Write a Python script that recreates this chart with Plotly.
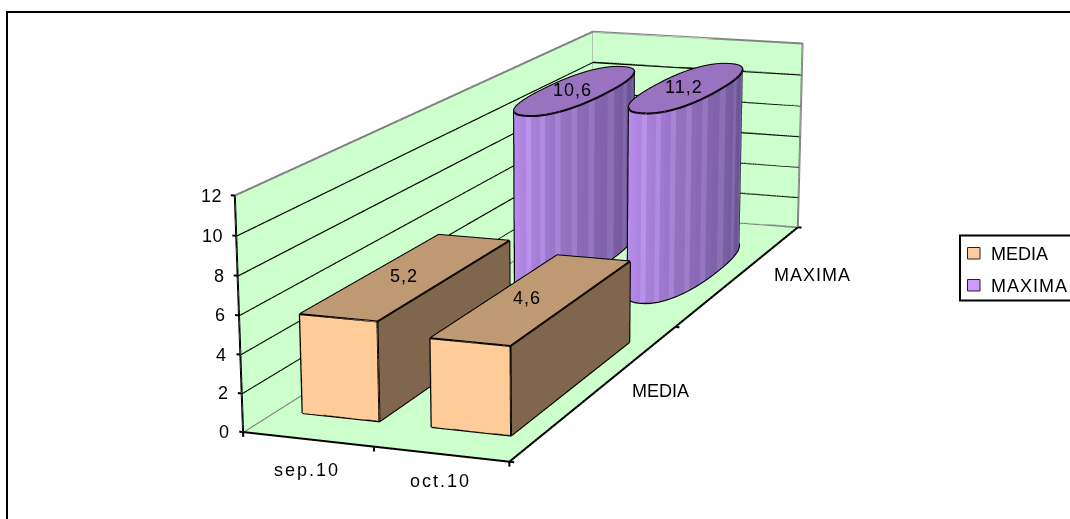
import numpy as np
import plotly.graph_objects as go

# ---- data ----
categories = ["sep.10", "oct.10"]
series = ["MEDIA", "MAXIMA"]
media = [5.2, 4.6]
maxima = [10.6, 11.2]
value_ticks = [0, 2, 4, 6, 8, 10, 12]
labels_media = ["5,2", "4,6"]
labels_maxima = ["10,6", "11,2"]

# ---- page and camera ----
W, H = 1070, 519
SCENE_H, TOP = 2309, 731          # plotly's fixed 45 degree lens needs a tall viewport for this long-lens view
EYE = [4.3792, -12.1218, 2.9229]
UP = [-0.0996, 0.2763, 0.9559]
CENTER = [-0.013, -0.277, -0.9587]
XR, YR, ZR = [-0.2, 2.2], [-0.2, 2.2], [-1, 13]
ASPECT = dict(x=1.1803 * 1.2, y=4.4003 * 1.2, z=14 / 12)

FONT = "Liberation Sans, Arial, sans-serif"
FS = 18
LIGHT = dict(ambient=1, diffuse=0, specular=0, fresnel=0, roughness=1)
GREEN, GREY, BLACK = "#ccffcc", "#808080", "#000000"
BAR_W, BAR_D = 0.6, 0.7
LW = 4
FLOOR_Z = -0.05


def spaced(s, ls):
    return f'<span style="letter-spacing:{ls}px">{s}</span>'


def polyline(segments, color, width):
    xs, ys, zs = [], [], []
    for seg in segments:
        for p in seg:
            xs.append(p[0]); ys.append(p[1]); zs.append(p[2])
        xs.append(None); ys.append(None); zs.append(None)
    return go.Scatter3d(x=xs, y=ys, z=zs, mode="lines", line=dict(color=color, width=width),
                        hoverinfo="skip", showlegend=False)


def quad(p, color):
    arr = np.array(p, float)
    return go.Mesh3d(x=arr[:, 0], y=arr[:, 1], z=arr[:, 2], i=[0, 0], j=[1, 2], k=[2, 3],
                     color=color, lighting=LIGHT, flatshading=True, hoverinfo="skip", showlegend=False)


def box(cx, cy, h):
    x0, x1 = cx - BAR_W / 2, cx + BAR_W / 2
    y0, y1 = cy - BAR_D / 2, cy + BAR_D / 2
    faces = [
        ([(x0, y0, 0), (x1, y0, 0), (x1, y0, h), (x0, y0, h)], "#ffcc99"),
        ([(x0, y0, h), (x1, y0, h), (x1, y1, h), (x0, y1, h)], "#bf9973"),
        ([(x1, y0, 0), (x1, y1, 0), (x1, y1, h), (x1, y0, h)], "#80664d"),
        ([(x0, y1, 0), (x1, y1, 0), (x1, y1, h), (x0, y1, h)], "#80664d"),
        ([(x0, y0, 0), (x0, y1, 0), (x0, y1, h), (x0, y0, h)], "#80664d"),
    ]
    traces = [quad(p, c) for p, c in faces]
    c = [(x0, y0), (x1, y0), (x1, y1), (x0, y1), (x0, y0)]
    segs = [[(a, b, 0) for a, b in c], [(a, b, h) for a, b in c]]
    segs += [[(a, b, 0), (a, b, h)] for a, b in c[:4]]
    traces.append(polyline(segs, BLACK, LW))
    return traces


def cylinder(cx, cy, h):
    n = 60
    half = n // 2
    rx, ry, p = 0.95 * BAR_W / 2, 0.95 * BAR_D / 2, 0.85
    ang = np.radians(240 + np.arange(n + 1) * 360 / n)
    c, s = np.cos(ang), np.sin(ang)
    px = cx + rx * np.sign(c) * np.abs(c) ** p
    py = cy + ry * np.sign(s) * np.abs(s) ** p
    vx = np.r_[px[:-1], px[:-1], cx]
    vy = np.r_[py[:-1], py[:-1], cy]
    vz = np.r_[np.zeros(n), np.full(n, h), h]
    i, j, k, fc = [], [], [], []
    left, right = np.array([186, 142, 238.]), np.array([96, 76, 134.])
    for a in range(n):
        b = (a + 1) % n
        fr = min(a / (half - 1), 1)
        col = left + (right - left) * fr
        if a % 3 == 2 and 4 < a < half - 2:
            col = col + 16
        col = "rgb(%d,%d,%d)" % tuple(np.clip(col, 0, 255))
        i += [a, a]; j += [b, b + n]; k += [b + n, a + n]; fc += [col, col]
        i.append(2 * n); j.append(a + n); k.append(b + n); fc.append("#9973bf")
    mesh = go.Mesh3d(x=vx, y=vy, z=vz, i=i, j=j, k=k, facecolor=fc, lighting=LIGHT, flatshading=True,
                     hoverinfo="skip", showlegend=False)
    top = [(a, b, h) for a, b in zip(px, py)]
    bottom = [(a, b, 0) for a, b in zip(px, py)]
    sil = [[(px[q], py[q], 0), (px[q], py[q], h)] for q in (0, half)]
    return [mesh, polyline([top, bottom] + sil, BLACK, LW)]


fig = go.Figure()
top_z = value_ticks[-1]
fig.add_trace(quad([(0, 0, FLOOR_Z), (2, 0, FLOOR_Z), (2, 2, FLOOR_Z), (0, 2, FLOOR_Z)], GREEN))
fig.add_trace(quad([(0, 0, 0), (0, 2, 0), (0, 2, top_z), (0, 0, top_z)], GREEN))
fig.add_trace(quad([(0, 2, 0), (2, 2, 0), (2, 2, top_z), (0, 2, top_z)], GREEN))

grid = []
for z in value_ticks[1:-1]:
    grid += [[(0, 0, z), (0, 2, z)], [(0, 2, z), (2, 2, z)]]
ticks = [[(0, 0, z), (-0.03, 0, z)] for z in value_ticks]
ticks += [[(x, 0, 0), (x, 0, -0.25)] for x in range(len(categories) + 1)]
ticks += [[(2, y, 0), (2.035, y, 0)] for y in range(len(series) + 1)]
fig.add_trace(polyline(grid + ticks + [[(0, 0, 0), (0, 0, top_z)], [(0, 0, 0), (2, 0, 0)], [(2, 0, 0), (2, 2, 0)]], BLACK, LW))
fig.add_trace(polyline([[(0, 0, 0), (0, 2, 0), (2, 2, 0), (2, 2, top_z), (0, 2, top_z), (0, 0, top_z)],
                        [(0, 2, 0), (0, 2, top_z)]], GREY, LW))

for c, (m, x) in enumerate(zip(media, maxima)):
    for t in box(c + 0.5, 0.5, m):
        fig.add_trace(t)
    for t in cylinder(c + 0.5, 1.5, x):
        fig.add_trace(t)

scene_ann = []
def sa(x, y, z, text, xs=0, ys=0, anchor="center"):
    scene_ann.append(dict(x=x, y=y, z=z, text=text, showarrow=False, xanchor=anchor, yanchor="middle",
                          xshift=xs, yshift=ys, font=dict(family=FONT, size=FS, color=BLACK)))

for z in value_ticks:
    sa(0, 0, z, spaced(str(z), 0.5), -11, 0, "right")
sa(0.5, 0, 0, spaced(categories[0], 2), -1, -31)
sa(1.5, 0, 0, spaced(categories[1], 2), -1, -27)
sa(2, 0.5, 0, spaced(series[0], 0), 61, -2)
sa(2, 1.5, 0, spaced(series[1], 1), 72, -1)
label_shift_media = [-6, -8]
label_shift_maxima = [-4, -4]
for c in range(len(categories)):
    sa(c + 0.5, 0.5, media[c], spaced(labels_media[c], 1), label_shift_media[c], 0)
    sa(c + 0.5, 1.5, maxima[c], spaced(labels_maxima[c], 1), label_shift_maxima[c], 0)


def pxx(x):
    return x / W


def pxy(y):
    return 1 - (y + TOP) / SCENE_H


def rect(x0, y0, x1, y1, line, fill=None, lw=2):
    return dict(type="rect", xref="paper", yref="paper", x0=pxx(x0), x1=pxx(x1), y0=pxy(y1), y1=pxy(y0),
                line=dict(color=line, width=lw), fillcolor=fill or "rgba(0,0,0,0)", layer="below" if fill is None else "above")


shapes = [rect(7, 12, 1078, 535, BLACK, lw=2),
          rect(960, 235.5, 1078, 300.5, BLACK, lw=2),
          rect(967.5, 247.5, 980, 259, "#222222", "#ffcc99", 1),
          rect(967.5, 279.5, 980, 291, "#222222", "#cc99ff", 1)]
annotations = [dict(x=pxx(989), y=pxy(y), xref="paper", yref="paper", xanchor="left", yanchor="middle", showarrow=False,
                    text=spaced(t, ls), font=dict(family=FONT, size=FS, color=BLACK))
               for t, y, ls in [(series[0], 254, 0), (series[1], 286, 1)]]

axis = dict(visible=False, showgrid=False, zeroline=False, showspikes=False)
fig.update_layout(
    width=W, height=SCENE_H, margin=dict(l=0, r=0, t=0, b=0, pad=0), showlegend=False,
    paper_bgcolor="white", shapes=shapes, annotations=annotations, hovermode=False,
    scene=dict(domain=dict(x=[0, 1], y=[0, 1]), aspectmode="manual", aspectratio=ASPECT, bgcolor="rgba(0,0,0,0)",
               xaxis=dict(range=XR, **axis), yaxis=dict(range=YR, **axis), zaxis=dict(range=ZR, **axis),
               camera=dict(eye=dict(zip("xyz", EYE)), up=dict(zip("xyz", UP)), center=dict(zip("xyz", CENTER))),
               annotations=scene_ann))

post = ("document.documentElement.style.overflow='hidden';document.body.style.margin='0';document.body.style.overflow='hidden';"
        "var g=document.getElementsByClassName('plotly-graph-div')[0];g.style.position='absolute';g.style.left='0';"
        f"g.style.top='{-TOP}px';")
fig.write_html("out.html", post_script=post, config=dict(displayModeBar=False))
